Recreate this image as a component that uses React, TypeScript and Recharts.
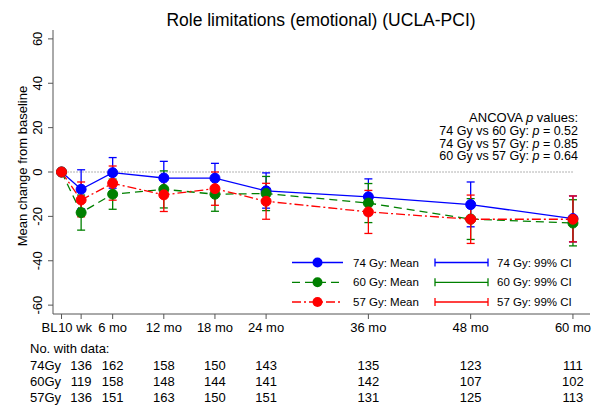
import React from 'react';
import { ComposedChart, Line, XAxis, YAxis, ErrorBar, ReferenceLine } from 'recharts';

// months since baseline (10 wk ~ 2.3 months)
const months = [0, 2.3, 6, 12, 18, 24, 36, 48, 60];
const monthLabels = ['BL', '10 wk', '6 mo', '12 mo', '18 mo', '24 mo', '36 mo', '48 mo', '60 mo'];
const yTicks = [-60, -40, -20, 0, 20, 40, 60];

const mean74 = [0, -7.8, -0.3, -2.7, -2.8, -8.5, -11.2, -14.7, -21];
const lo74 = [null, -16.6, -7.3, -10.2, -9.5, -16.3, -19.3, -24.7, -31.5];
const hi74 = [null, 1, 6.5, 4.8, 3.9, -0.4, -3.1, -4.5, -10.8];

const mean60 = [0, -18.3, -10, -7.8, -10, -9.7, -14, -21.2, -23];
const lo60 = [null, -26.2, -16.8, -16.2, -17.7, -17.4, -22.8, -30.4, -33.3];
const hi60 = [null, -10.4, -3.2, 0.5, -2.3, -2, -5.2, -12, -12.5];

const mean57 = [0, -12.6, -5.1, -10.3, -7.5, -13.2, -18, -21.3, -21.3];
const lo57 = [null, -20.2, -12.7, -17.8, -15, -21.3, -27.7, -32.2, -31.5];
const hi57 = [null, -4.5, 2.7, -2.8, 0, -5.1, -8.3, -10.4, -10.8];

const n74 = [null, 136, 162, 158, 150, 143, 135, 123, 111];
const n60 = [null, 119, 158, 148, 144, 141, 142, 107, 102];
const n57 = [null, 136, 151, 163, 150, 151, 131, 125, 113];

const pValues = [
  { pair: '74 Gy vs 60 Gy', p: '0.52' },
  { pair: '74 Gy vs 57 Gy', p: '0.85' },
  { pair: '60 Gy vs 57 Gy', p: '0.64' },
];

const BLUE = '#0000ff';
const GREEN = '#008000';
const RED = '#ff0000';
const AXIS = '#555555';
const FONT = "'Liberation Sans', Arial, sans-serif";

const series = [
  { key: 'g74', err: 'e74', name: '74 Gy', color: BLUE, dash: undefined as string | undefined },
  { key: 'g60', err: 'e60', name: '60 Gy', color: GREEN, dash: '8 5' },
  { key: 'g57', err: 'e57', name: '57 Gy', color: RED, dash: '9 3 2 3' },
];

const errOf = (mean: number, lo: number | null, hi: number | null) =>
  lo == null || hi == null ? null : [mean - lo, hi - mean];

const data = months.map((m, i) => ({
  m,
  g74: mean74[i],
  e74: errOf(mean74[i], lo74[i], hi74[i]),
  g60: mean60[i],
  e60: errOf(mean60[i], lo60[i], hi60[i]),
  g57: mean57[i],
  e57: errOf(mean57[i], lo57[i], hi57[i]),
}));

const domainX: [number, number] = [-1, 62];

const XTick = (props: any) => {
  const { x, y, payload } = props;
  const i = months.indexOf(payload.value);
  let anchor: 'middle' | 'end' | 'start' = 'middle';
  let dx = 0;
  if (i === 0) { anchor = 'end'; dx = -4; }
  if (i === 1) { anchor = 'start'; dx = -23; }
  return (
    <text x={x + dx} y={y + 11} textAnchor={anchor} fontSize={13} fill="#000" fontFamily={FONT}>
      {monthLabels[i]}
    </text>
  );
};

const countTick = (counts: (number | null)[]) => (props: any) => {
  const { x, y, payload } = props;
  const i = months.indexOf(payload.value);
  const v = counts[i];
  if (v == null) return <g />;
  return (
    <text x={x} y={y + 13} textAnchor="middle" fontSize={13} fill="#000" fontFamily={FONT}>
      {v}
    </text>
  );
};

const rowLabel = (text: string, dy: number) => (props: any) => {
  const vb = props.viewBox || {};
  return (
    <text x={30} y={(vb.y || 0) + dy} fontSize={13} fill="#000" fontFamily={FONT}>
      {text}
    </text>
  );
};

const YTick = (props: any) => {
  const { x, y, payload } = props;
  const tx = x - 4;
  return (
    <text x={tx} y={y} transform={`rotate(-90 ${tx} ${y})`} textAnchor="middle" fontSize={13} fill="#000" fontFamily={FONT}>
      {payload.value}
    </text>
  );
};

const YLabel = (props: any) => {
  const vb = props.viewBox || {};
  const cy = (vb.y || 0) + (vb.height || 0) / 2 - 6;
  return (
    <text x={27} y={cy} transform={`rotate(-90 27 ${cy})`} textAnchor="middle" fontSize={13} fill="#000" fontFamily={FONT}>
      Mean change from baseline
    </text>
  );
};

const Overlay = () => {
  const rowY = [262.5, 282.3, 302];
  return (
    <svg width={598} height={407} style={{ position: 'absolute', left: 0, top: 0, pointerEvents: 'none' }} fontFamily={FONT}>
      <text x={321} y={26} textAnchor="middle" fontSize={17.5} fill="#000">
        Role limitations (emotional) (UCLA-PCI)
      </text>
      <text x={578} y={121.5} textAnchor="end" fontSize={13} fill="#000">
        ANCOVA <tspan fontStyle="italic">p</tspan> values:
      </text>
      {pValues.map((r, i) => (
        <text key={r.pair} x={578} y={135 + i * 12.5} textAnchor="end" fontSize={12.5} fill="#000">
          {r.pair}: <tspan fontStyle="italic">p</tspan> = {r.p}
        </text>
      ))}
      {series.map((s, i) => (
        <g key={s.key}>
          <line x1={292} x2={343} y1={rowY[i]} y2={rowY[i]} stroke={s.color} strokeWidth={1.3} strokeDasharray={s.dash} />
          <circle cx={317.5} cy={rowY[i]} r={5} fill={s.color} />
          <text x={353} y={rowY[i] + 4} fontSize={11.5} fill="#000">{s.name}: Mean</text>
          <line x1={435} x2={488} y1={rowY[i]} y2={rowY[i]} stroke={s.color} strokeWidth={1.3} />
          <line x1={435} x2={435} y1={rowY[i] - 4} y2={rowY[i] + 4} stroke={s.color} strokeWidth={1.3} />
          <line x1={488} x2={488} y1={rowY[i] - 4} y2={rowY[i] + 4} stroke={s.color} strokeWidth={1.3} />
          <text x={497} y={rowY[i] + 4} fontSize={11.5} fill="#000">{s.name}: 99% CI</text>
        </g>
      ))}
    </svg>
  );
};

export default function App() {
  return (
    <div style={{ position: 'absolute', left: 0, top: 0, width: 598, height: 407, background: '#fff', fontFamily: FONT }}>
      <ComposedChart width={598} height={407} data={data} margin={{ top: 30, right: 8, bottom: 2, left: 0 }}>
        {/* bottom axes stack by id: a_ sits next to the plot, e_ is lowest */}
        <XAxis
          xAxisId="a_x"
          type="number"
          dataKey="m"
          domain={domainX}
          ticks={months}
          interval={0}
          allowDataOverflow
          height={24}
          tickSize={5}
          tickMargin={2}
          stroke={AXIS}
          tick={XTick}
        />
        <XAxis
          xAxisId="b_hdr"
          type="number"
          dataKey="m"
          domain={domainX}
          ticks={[]}
          height={19}
          axisLine={false}
          tickLine={false}
          tick={false}
          label={rowLabel('No. with data:', 15)}
        />
        <XAxis
          xAxisId="c_n74"
          type="number"
          dataKey="m"
          domain={domainX}
          ticks={months}
          interval={0}
          height={16}
          axisLine={false}
          tickLine={false}
          tickSize={0}
          tickMargin={0}
          tick={countTick(n74)}
          label={rowLabel('74Gy', 13)}
        />
        <XAxis
          xAxisId="d_n60"
          type="number"
          dataKey="m"
          domain={domainX}
          ticks={months}
          interval={0}
          height={16}
          axisLine={false}
          tickLine={false}
          tickSize={0}
          tickMargin={0}
          tick={countTick(n60)}
          label={rowLabel('60Gy', 13)}
        />
        <XAxis
          xAxisId="e_n57"
          type="number"
          dataKey="m"
          domain={domainX}
          ticks={months}
          interval={0}
          height={16}
          axisLine={false}
          tickLine={false}
          tickSize={0}
          tickMargin={0}
          tick={countTick(n57)}
          label={rowLabel('57Gy', 13)}
        />
        <YAxis
          type="number"
          domain={[-64, 64]}
          ticks={yTicks}
          interval={0}
          allowDataOverflow
          width={53}
          tickSize={5}
          tickMargin={2}
          stroke={AXIS}
          tick={YTick}
          label={YLabel}
        />
        <ReferenceLine
          xAxisId="a_x"
          segment={[{ x: 0, y: 0 }, { x: 60, y: 0 }]}
          stroke="#666"
          strokeDasharray="1 2"
        />
        {series.map((s) => (
          <Line
            key={s.key}
            xAxisId="a_x"
            type="linear"
            dataKey={s.key}
            stroke={s.color}
            strokeWidth={1.3}
            strokeDasharray={s.dash}
            dot={{ r: 5, fill: s.color, stroke: s.color, strokeWidth: 1, strokeDasharray: '' }}
            activeDot={false}
            isAnimationActive={false}
          >
            <ErrorBar dataKey={s.err} direction="y" width={4} stroke={s.color} strokeWidth={1.3} isAnimationActive={false} />
          </Line>
        ))}
      </ComposedChart>
      <Overlay />
    </div>
  );
}
